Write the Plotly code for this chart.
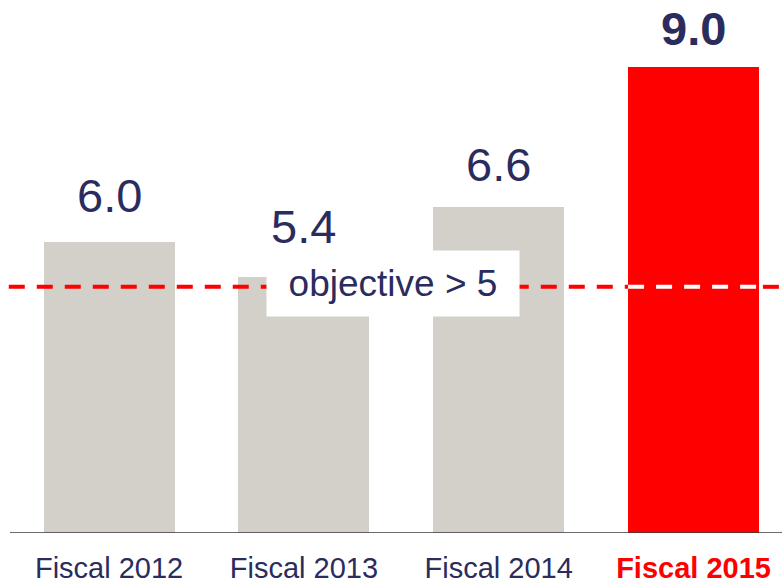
import plotly.graph_objects as go

# Data
categories = ["Fiscal 2012", "Fiscal 2013", "Fiscal 2014", "Fiscal 2015"]
values = [6.0, 5.4, 6.6, 9.0]
value_labels = ["6.0", "5.4", "6.6", "9.0"]
objective_level = 5.23
objective_text = "objective > 5"

NAVY = "#2B2C5E"
GREY = "#D3D0CA"
RED = "#FF0000"
FONT = "Liberation Sans, Arial, sans-serif"

x_pos = list(range(len(categories)))
bar_width = 0.672
highlight = len(categories) - 1

colors = [RED if i == highlight else GREY for i in x_pos]

fig = go.Figure()
fig.add_trace(go.Bar(
    x=x_pos, y=values, width=bar_width,
    marker=dict(color=colors, line=dict(width=0)),
    hoverinfo="skip",
))

# value labels above each bar (pixel lift per label)
label_lift = [18, 22, 14, 10]
for i, (v, lab) in enumerate(zip(values, value_labels)):
    txt = f"<b>{lab}</b>" if i == highlight else lab
    fig.add_annotation(
        x=i, y=v, text=txt, showarrow=False, xref="x", yref="y",
        yanchor="bottom", yshift=label_lift[i],
        font=dict(family=FONT, size=47, color=NAVY),
    )

# objective line: red dashes, white where it crosses the highlighted bar
x_lo, x_hi = -0.515, 3.454
hl_left = highlight - bar_width / 2
hl_right = highlight + bar_width / 2
dash = "16px,12px"
fig.add_shape(type="line", xref="x", yref="y", x0=x_lo, x1=hl_left,
              y0=objective_level, y1=objective_level,
              line=dict(color=RED, width=4, dash=dash), layer="above")
fig.add_shape(type="line", xref="x", yref="y", x0=hl_left, x1=hl_right,
              y0=objective_level, y1=objective_level,
              line=dict(color="white", width=4, dash=dash), layer="above")
fig.add_shape(type="line", xref="x", yref="y", x0=hl_right + 0.02, x1=x_hi,
              y0=objective_level, y1=objective_level,
              line=dict(color=RED, width=4, dash=dash), layer="above")

fig.add_annotation(
    x=1.459, y=objective_level, xref="x", yref="y", showarrow=False,
    text=objective_text, font=dict(family=FONT, size=37, color=NAVY),
    bgcolor="white", width=230, height=43, borderpad=11,
    xanchor="center", yanchor="middle", yshift=3,
)

tick_text = [
    f"<b><span style='color:{RED}'>{c}</span></b>" if i == highlight else c
    for i, c in enumerate(categories)
]

fig.update_layout(
    width=782, height=584,
    margin=dict(l=0, r=0, t=0, b=51),
    paper_bgcolor="white", plot_bgcolor="white",
    showlegend=False, bargap=0,
    font=dict(family=FONT, color=NAVY),
    xaxis=dict(
        range=[-0.56, 3.454], tickvals=x_pos, ticktext=tick_text,
        showgrid=False, zeroline=False, ticks="",
        tickfont=dict(family=FONT, size=29, color=NAVY),
        ticklabelstandoff=15, automargin=False,
        showline=False,
    ),
    yaxis=dict(range=[1, 10.158], visible=False, automargin=False),
)

# baseline under the bars
fig.add_shape(type="line", xref="paper", yref="y", x0=0.0128, x1=1,
              y0=1, y1=1, line=dict(color="#3A3A3A", width=1.5), layer="above")

fig.write_html("out.html")
